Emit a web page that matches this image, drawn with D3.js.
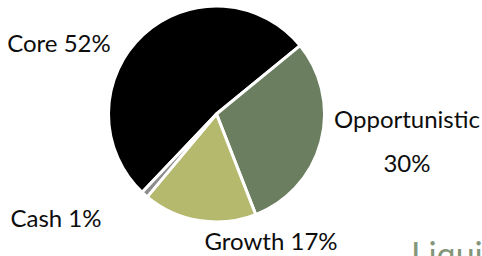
<!DOCTYPE html>
<html>
<head>
<meta charset="utf-8">
<script src="https://cdn.jsdelivr.net/npm/d3@7/dist/d3.min.js"></script>
<style>
  html, body { margin: 0; padding: 0; background: #ffffff; }
  svg { display: block; }
  text { font-family: Lato, "Open Sans", sans-serif; }
</style>
</head>
<body>
<script>
// ---- data ----
const categories = ["Core", "Opportunistic", "Growth", "Cash"];
const values = [52, 30, 17, 1];
const labelLines = [["Core 52%"], ["Opportunistic", "30%"], ["Growth 17%"], ["Cash 1%"]];
const footerText = "Liqui";

// ---- style / layout ----
const W = 482, H = 256;
const colors = ["#000000", "#6b7f60", "#b5b96e", "#8c8c8c"];
const cx = 216.5, cy = 114, R = 108;
const startDeg = 223.5;
const labelPos = [
  { x: 59, y: 52 },
  { x: 407, y: 128, dy: 44 },
  { x: 271, y: 250 },
  { x: 56, y: 227 }
];

const svg = d3.select("body").append("svg").attr("width", W).attr("height", H);

const color = d3.scaleOrdinal().domain(categories).range(colors);
const start = startDeg * Math.PI / 180;
const pie = d3.pie().sort(null).value(d => d.v).startAngle(start).endAngle(start + 2 * Math.PI);
const arc = d3.arc().innerRadius(0).outerRadius(R);

const data = categories.map((c, i) => ({ c, v: values[i] }));

const g = svg.append("g").attr("transform", `translate(${cx},${cy})`);
g.selectAll("path").data(pie(data)).join("path")
  .attr("d", arc)
  .attr("fill", d => color(d.data.c))
  .attr("stroke", "#ffffff")
  .attr("stroke-width", 3)
  .attr("stroke-linejoin", "round");

const lab = svg.append("g");
labelLines.forEach((lines, i) => {
  const p = labelPos[i];
  const t = lab.append("text")
    .attr("x", p.x).attr("y", p.y)
    .attr("text-anchor", "middle")
    .attr("font-size", 24)
    .attr("fill", "#0d0d0d");
  lines.forEach((s, j) => {
    t.append("tspan").attr("x", p.x).attr("y", p.y + j * (p.dy || 0)).text(s);
  });
});

svg.append("text")
  .attr("x", 411).attr("y", 267)
  .attr("font-size", 34)
  .attr("fill", "#849679")
  .text(footerText);
</script>
</body>
</html>
